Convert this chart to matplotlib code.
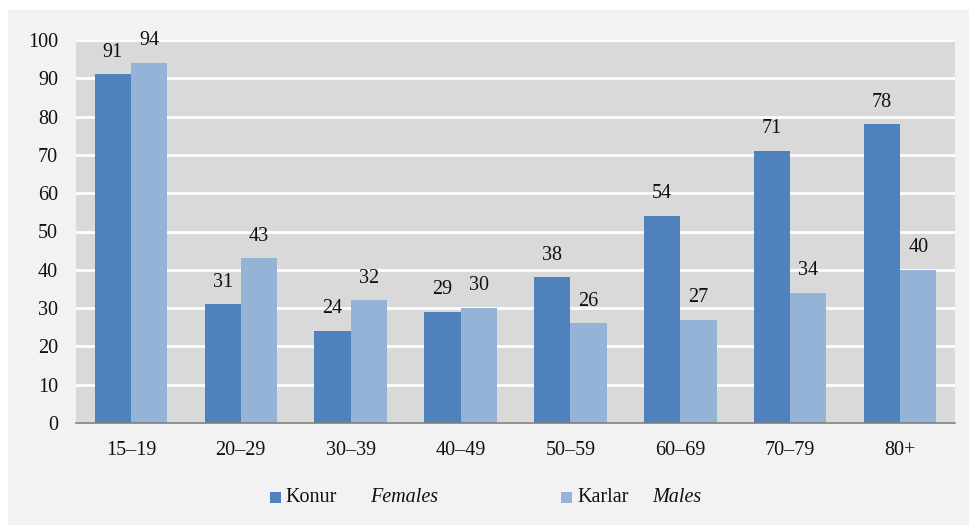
import matplotlib
matplotlib.use("Agg")
import matplotlib.pyplot as plt
from matplotlib.patches import Rectangle
import numpy as np

categories = ["15–19", "20–29", "30–39", "40–49", "50–59", "60–69", "70–79", "80+"]
females = [91, 31, 24, 29, 38, 54, 71, 78]
males = [94, 43, 32, 30, 26, 27, 34, 40]
yticks = [0, 10, 20, 30, 40, 50, 60, 70, 80, 90, 100]

W, H = 970, 525
FS = 14.5
GAP = 16
plt.rcParams['font.family'] = ['Liberation Serif', 'DejaVu Serif']
fig = plt.figure(figsize=(W / 100, H / 100), dpi=100)
fig.patch.set_facecolor('white')
fig.add_artist(Rectangle((8 / W, 0), 1, 1 - 10 / H, transform=fig.transFigure,
                         facecolor='#f2f2f2', edgecolor='none', zorder=-10))

ax = fig.add_axes([76 / W, 1 - 423 / H, (955 - 76) / W, (423 - 40) / H])
ax.set_facecolor('#d9d9d9')
x = np.arange(len(categories))
bw = 0.33
c_f, c_m = '#4f81bd', '#95b3d7'
ax.bar(x - bw / 2, females, bw, color=c_f, zorder=3)
ax.bar(x + bw / 2, males, bw, color=c_m, zorder=3)
for xi, v in zip(x, females):
    ax.annotate(str(v), (xi - bw / 2, v), xytext=(0, GAP), textcoords='offset points',
                ha='center', va='center', fontsize=FS, color='#111111')
for xi, v in zip(x, males):
    ax.annotate(str(v), (xi + bw / 2, v), xytext=(0, GAP), textcoords='offset points',
                ha='center', va='center', fontsize=FS, color='#111111')

ax.set_xlim(-0.5, len(categories) - 0.5)
ax.set_ylim(0, 100)
ax.set_yticks(yticks)
ax.set_yticklabels([str(t) for t in yticks], fontsize=FS)
ax.set_xticks(x)
ax.set_xticklabels(categories, fontsize=FS)
ax.tick_params(axis='both', length=0, colors='#111111')
ax.tick_params(axis='y', pad=13)
ax.tick_params(axis='x', pad=13)
ax.grid(axis='y', color='white', linewidth=2, zorder=1)
for s in ['top', 'right', 'left']:
    ax.spines[s].set_visible(False)
ax.spines['bottom'].set_color('#808080')
ax.spines['bottom'].set_linewidth(1.2)
ax.spines['bottom'].set_zorder(4)

# legend
ly = 1 - 497 / H
sq = 11
for px, col in [(270, c_f), (561, c_m)]:
    fig.add_artist(Rectangle((px / W, ly - sq / 2 / H), sq / W, sq / H,
                             transform=fig.transFigure, facecolor=col, edgecolor='none'))
fig.text(285 / W, ly, "Konur", fontsize=FS, va='center', ha='left', color='#111111')
fig.text(370 / W, ly, "Females", fontsize=FS, va='center', ha='left', style='italic', color='#111111')
fig.text(577 / W, ly, "Karlar", fontsize=FS, va='center', ha='left', color='#111111')
fig.text(652 / W, ly, "Males", fontsize=FS, va='center', ha='left', style='italic', color='#111111')

fig.savefig("out.png", dpi=100, facecolor=fig.get_facecolor())
